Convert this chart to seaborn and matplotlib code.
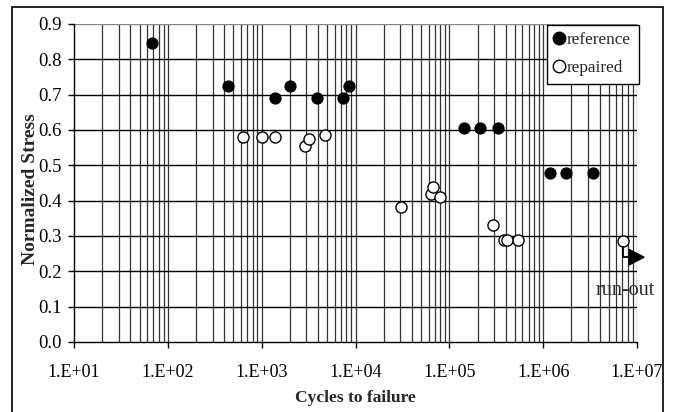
import numpy as np
import pandas as pd
import matplotlib
matplotlib.use("Agg")
import matplotlib.pyplot as plt
from matplotlib.patches import Rectangle
from matplotlib.lines import Line2D
from matplotlib.ticker import FixedLocator, NullFormatter
import seaborn as sns

# ---- data ----
ref_cycles = [68, 436, 1380, 2000, 3900, 7400, 8500, 144000, 210000, 330000, 1170000, 1760000, 3400000]
ref_stress = [0.845, 0.725, 0.690, 0.725, 0.690, 0.690, 0.725, 0.605, 0.605, 0.605, 0.478, 0.478, 0.478]

rep_cycles = [630, 1000, 1380, 2900, 3200, 4740, 30600, 64000, 67000, 79000, 293000, 380000, 410000, 540000, 7100000]
rep_stress = [0.580, 0.580, 0.580, 0.555, 0.575, 0.585, 0.382, 0.420, 0.438, 0.410, 0.331, 0.290, 0.290, 0.290, 0.285]

series_names = ["reference", "repaired"]
x_tick_labels = ["1.E+01", "1.E+02", "1.E+03", "1.E+04", "1.E+05", "1.E+06", "1.E+07"]
y_tick_labels = ["0.0", "0.1", "0.2", "0.3", "0.4", "0.5", "0.6", "0.7", "0.8", "0.9"]

df = pd.DataFrame({
    "cycles": ref_cycles + rep_cycles,
    "stress": ref_stress + rep_stress,
    "series": [series_names[0]] * len(ref_cycles) + [series_names[1]] * len(rep_cycles),
})

sns.set_style("white")
plt.rcParams["font.family"] = ["Liberation Serif", "DejaVu Serif"]

fig = plt.figure(figsize=(6.73, 4.12), dpi=100)
W, H = 673, 412
ax = fig.add_axes([74 / W, 1 - 342 / H, (637 - 74) / W, (342 - 24) / H])

ax.set_xscale("log")
ax.set_xlim(10, 1e7)
ax.set_ylim(0, 0.9)

# gridlines
minor_pos = [m * 10 ** e for e in range(1, 7) for m in range(2, 10)]
for xv in minor_pos + [10 ** e for e in range(2, 8)]:
    ax.axvline(xv, color="#333333", lw=0.9, zorder=0.5)
for i, _ in enumerate(y_tick_labels[1:], start=1):
    ax.axhline(i * 0.1, color="black" if i < 9 else "#888888", lw=1.0, zorder=0.6)

sns.scatterplot(data=df[df.series == "reference"], x="cycles", y="stress", ax=ax,
                s=64, color="black", edgecolor="black", linewidth=0.8, zorder=3,
                legend=False)
sns.scatterplot(data=df[df.series == "repaired"], x="cycles", y="stress", ax=ax,
                s=64, facecolor="white", edgecolor="black", linewidth=1.0, zorder=3,
                legend=False)

# axes styling
for side in ["top", "right"]:
    ax.spines[side].set_visible(False)
for side in ["left", "bottom"]:
    ax.spines[side].set_color("black")
    ax.spines[side].set_linewidth(1.0)

ax.xaxis.set_major_locator(FixedLocator([10 ** e for e in range(1, 8)]))
ax.set_xticklabels(x_tick_labels)
ax.xaxis.set_minor_formatter(NullFormatter())
ax.tick_params(axis="x", which="minor", length=0)
ax.set_yticks([i * 0.1 for i in range(len(y_tick_labels))])
ax.set_yticklabels(y_tick_labels)
ax.tick_params(axis="both", which="major", direction="out", length=4, width=1,
               color="black", labelcolor="black", bottom=True, left=True)
ax.tick_params(axis="x", labelsize=13, pad=12)
ax.tick_params(axis="y", labelsize=13.5, pad=5)

ax.set_xlabel("Cycles to failure", fontsize=12.5, fontweight="bold")
ax.xaxis.set_label_coords(0.5, -0.152)
ax.set_ylabel("Normalized Stress", fontsize=14, fontweight="bold")
ax.yaxis.set_label_coords(-0.062, 0.48)

# legend
handles = [
    Line2D([], [], marker="o", ls="none", markersize=9, markerfacecolor="black", markeredgecolor="black"),
    Line2D([], [], marker="o", ls="none", markersize=9, markerfacecolor="white", markeredgecolor="black"),
]
leg = ax.legend(handles, series_names, loc="upper right", bbox_to_anchor=(1.003, 0.998),
                frameon=True, fancybox=False, fontsize=12.3, handlelength=0.6,
                handletextpad=0.15, borderpad=0.45, labelspacing=0.7, borderaxespad=0)
leg.get_frame().set_edgecolor("black")
leg.get_frame().set_linewidth(1.0)
leg.get_frame().set_alpha(1)

# run-out annotation from last repaired point
x0, y0 = rep_cycles[-1], rep_stress[-1]
y_turn = y0 - 0.045
x_base = x0 * 10 ** 0.064
x_tip = x0 * 10 ** 0.224
ax.plot([x0, x0, x_base], [y0 - 0.015, y_turn, y_turn], color="black", lw=1.3,
        clip_on=False, zorder=4, solid_joinstyle="miter")
ax.fill([x_base, x_base, x_tip], [y_turn - 0.022, y_turn + 0.022, y_turn], color="black",
        clip_on=False, zorder=4)
ax.text(x0 * 10 ** 0.02, y_turn - 0.093, "run-out", fontsize=14.5, ha="center", va="center")

# outer frame
fig.add_artist(Rectangle((12 / W, -0.05), (663 - 12) / W, 1.05 - 7 / H, transform=fig.transFigure,
                         fill=False, edgecolor="black", lw=1.2))

fig.savefig("out.png", dpi=100)
